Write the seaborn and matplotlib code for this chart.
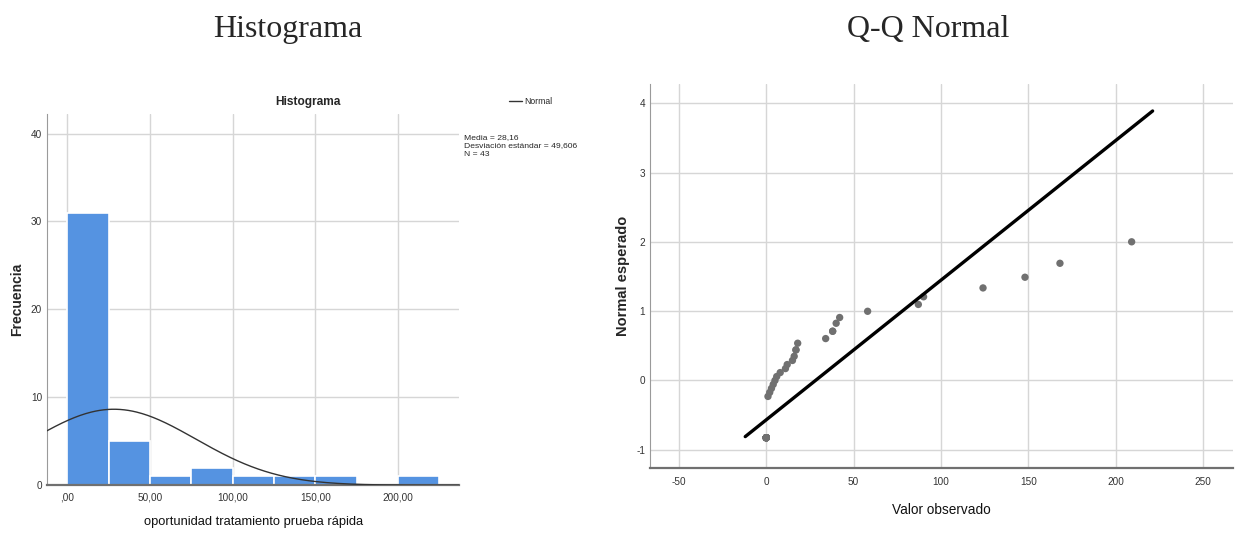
import numpy as np
import pandas as pd
import seaborn as sns
import matplotlib.pyplot as plt
from matplotlib.lines import Line2D
from statistics import NormalDist

sns.set_style("white")
NARROW = ["Liberation Sans Narrow", "Liberation Sans", "DejaVu Sans"]
plt.rcParams["font.family"] = NARROW
plt.rcParams["axes.unicode_minus"] = False

observed = [0] * 17 + [1, 2, 3, 4, 5, 6, 8, 11, 12, 15, 16, 17, 17, 18,
                       34, 38, 38, 40, 42, 58, 87, 90, 124, 148, 168, 209]
media = 28.16
desv = 49.606
n_obs = 43
bin_width = 25
hist_ticks = [0, 50, 100, 150, 200]
hist_ticklabels = [",00", "50,00", "100,00", "150,00", "200,00"]
hist_yticks = [0, 10, 20, 30, 40]
qq_xticks = [-50, 0, 50, 100, 150, 200, 250]
qq_yticks = [-1, 0, 1, 2, 3, 4]
qq_line_x = [-12, 221]

BAR = "#5593E1"
GRID = "#D6D6D6"

df = pd.DataFrame({"valor": observed})
# expected normal (van der Waerden, mean rank for ties)
df["rango"] = df["valor"].rank(method="average")
df["esperado"] = [NormalDist().inv_cdf(r / (len(df) + 1)) for r in df["rango"]]

fig = plt.figure(figsize=(12.38, 5.44), dpi=100)
ax1 = fig.add_axes([0.038, 0.108, 0.333, 0.682])
ax2 = fig.add_axes([0.525, 0.140, 0.471, 0.706])

#%% histogram
sns.histplot(x=df["valor"], binwidth=bin_width, binrange=(0, 225), color=BAR,
             edgecolor="white", linewidth=1.2, alpha=1, ax=ax1, zorder=2)
xs = np.linspace(-12.3, 237, 300)
curve = [n_obs * bin_width * NormalDist(media, desv).pdf(v) for v in xs]
sns.lineplot(x=xs, y=curve, color="#333333", linewidth=1, ax=ax1, zorder=3)
ax1.set_xlim(-12.3, 237)
ax1.set_ylim(0, 42.2)
ax1.set_xticks(hist_ticks)
ax1.set_xticklabels(hist_ticklabels)
ax1.set_yticks(hist_yticks)
ax1.grid(True, color=GRID, linewidth=1, zorder=0)
ax1.set_axisbelow(True)
ax1.set_xlabel("oportunidad tratamiento prueba rápida", fontsize=9.3, color="#111111")
ax1.set_ylabel("Frecuencia", fontsize=10, fontweight="bold", family="Liberation Sans")
ax1.xaxis.set_label_coords(0.5, -0.084)
ax1.yaxis.set_label_coords(-0.055, 0.5)

#%% Q-Q
sns.scatterplot(x=df["valor"], y=df["esperado"], color="#707070", s=28,
                edgecolor="none", ax=ax2, zorder=3)
line_y = [(v - media) / desv for v in qq_line_x]
sns.lineplot(x=qq_line_x, y=line_y, color="black", linewidth=2.4, ax=ax2, zorder=4)
ax2.set_xlim(-66.5, 267)
ax2.set_ylim(-1.26, 4.28)
ax2.set_xticks(qq_xticks)
ax2.set_yticks(qq_yticks)
ax2.grid(True, color=GRID, linewidth=1, zorder=0)
ax2.set_axisbelow(True)
ax2.set_xlabel("Valor observado", fontsize=9.8, color="#111111")
ax2.set_ylabel("Normal esperado", fontsize=10.5, fontweight="bold", family="Liberation Sans")
ax2.xaxis.set_label_coords(0.5, -0.091)
ax2.yaxis.set_label_coords(-0.034, 0.5)

for ax, pad in [(ax1, 5), (ax2, 6.5)]:
    ax.tick_params(axis="both", length=0, labelsize=7.2, colors="#333333")
    ax.tick_params(axis="x", pad=pad)
    ax.tick_params(axis="y", pad=3.5)
    for s in ["top", "right"]:
        ax.spines[s].set_visible(False)
    ax.spines["left"].set_color("#9A9A9A")
    ax.spines["bottom"].set_color("#707070")
    ax.spines["bottom"].set_linewidth(1.6)

# titles
fig.text(288 / 1238, 1 - 30 / 544, "Histograma", family="Liberation Serif",
         fontsize=23, ha="center", va="center")
fig.text(928 / 1238, 1 - 30 / 544, "Q-Q Normal", family="Liberation Serif",
         fontsize=23, ha="center", va="center")
fig.text(308 / 1238, 1 - 102 / 544, "Histograma", fontsize=8.6,
         fontweight="bold", ha="center", va="center")

# legend and stats box
fig.add_artist(Line2D([509 / 1238, 522 / 1238], [1 - 101 / 544] * 2,
                      color="#333333", linewidth=1))
fig.text(524 / 1238, 1 - 101 / 544, "Normal", fontsize=6.2, va="center")
fig.text(464 / 1238, 1 - 134 / 544,
         "Media = 28,16\nDesviación estándar = 49,606\nN = 43",
         fontsize=6.1, va="top", linespacing=1.3)

fig.savefig("out.png", dpi=100)
